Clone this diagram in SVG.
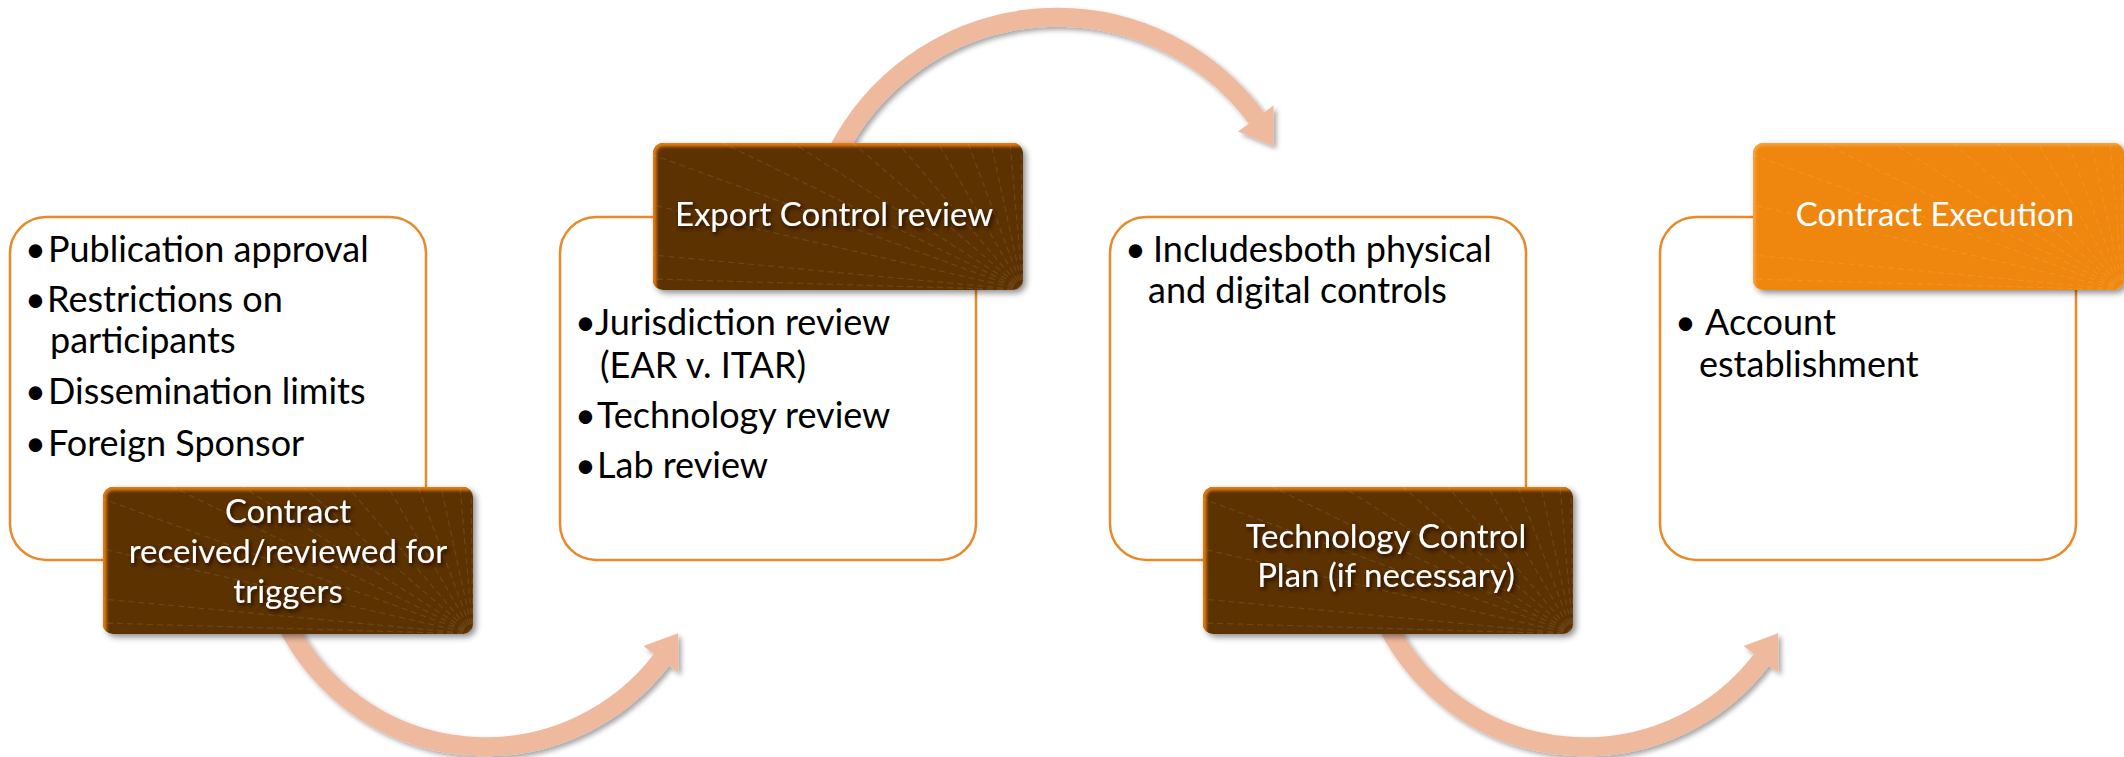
<svg xmlns="http://www.w3.org/2000/svg" xmlns:xlink="http://www.w3.org/1999/xlink" width="2124" height="757" viewBox="0 0 2124 757">
  <defs>
    <filter id="shadow" x="-10%" y="-10%" width="125%" height="130%">
      <feDropShadow dx="3" dy="3" stdDeviation="3" flood-color="#000" flood-opacity="0.45"/>
    </filter>
    <filter id="arrowShadow" x="-10%" y="-10%" width="125%" height="130%">
      <feDropShadow dx="3" dy="3" stdDeviation="2.5" flood-color="#000" flood-opacity="0.35"/>
    </filter>
    <filter id="txtShadow" x="-10%" y="-30%" width="125%" height="170%">
      <feDropShadow dx="2" dy="2.5" stdDeviation="2" flood-color="#1a0c00" flood-opacity="0.9"/>
    </filter>
    <filter id="soft" x="-5%" y="-5%" width="110%" height="110%">
      <feGaussianBlur stdDeviation="1.6"/>
    </filter>
    <clipPath id="c1"><rect x="103" y="487" width="370" height="147" rx="10"/></clipPath>
    <clipPath id="c2"><rect x="653" y="143" width="370" height="147" rx="10"/></clipPath>
    <clipPath id="c3"><rect x="1203" y="487" width="370" height="147" rx="10"/></clipPath>
    <clipPath id="c4"><rect x="1753" y="143" width="371" height="147" rx="10"/></clipPath>
    <g id="rays" fill="none" stroke="#ffffff" stroke-opacity="0.10" stroke-width="1.2" stroke-dasharray="6 4">
      <path d="M370 147 L0 12 M370 147 L0 62 M370 147 L0 112 M370 147 L0 136 M370 147 L70 0 M370 147 L140 0 M370 147 L200 0 M370 147 L245 0 M370 147 L285 0 M370 147 L315 0 M370 147 L338 0 M370 147 L357 0 M370 147 L368 0"/>
    </g>
    <style>
      .panel { fill: #ffffff; stroke: #E8892A; stroke-width: 2.5; }
      .brown { fill: #5C3200; }
      .glow { fill: none; stroke: #E57C0E; stroke-width: 7; }
      .orange { fill: #EF860B; }
      .glowO { fill: none; stroke: #F6A547; stroke-width: 5; }
      .body { font-family: Lato, "Open Sans", sans-serif; font-size: 36px; fill: #000; }
      .label { font-family: Lato, "Open Sans", sans-serif; font-size: 33px; fill: #fff; text-anchor: middle; }
      .arrow { fill: none; stroke: #EFB99E; stroke-width: 19; }
      .head { fill: #EFB99E; }
    </style>
  </defs>

  <g id="connectors">
    <g filter="url(#arrowShadow)">
      <path class="arrow" d="M 287.2 624.8 A 222 222 0 0 0 661.5 659.9"/>
      <polygon class="head" points="678.2,633.3 678.3,672.8 643.5,646.0"/>
    </g>
    <g filter="url(#arrowShadow)">
      <path class="arrow" d="M 836.9 152.9 A 247 247 0 0 1 1256.4 117.9"/>
      <polygon class="head" points="1273.4,146.0 1273.5,105.4 1238.1,131.5"/>
    </g>
    <g filter="url(#arrowShadow)">
      <path class="arrow" d="M 1387.2 624.8 A 222 222 0 0 0 1761.5 659.9"/>
      <polygon class="head" points="1778.2,633.3 1778.3,672.8 1743.5,646.0"/>
    </g>
  </g>

  <g id="node-contract-received">
    <rect class="panel" x="10" y="217" width="416" height="343" rx="36"/>
    <text class="body" x="25" y="262">•</text>
    <text class="body" x="48" y="262">Publication approval</text>
    <text class="body" x="25" y="312">•</text>
    <text class="body" x="47" y="312">Restrictions on</text>
    <text class="body" x="50" y="353">participants</text>
    <text class="body" x="25" y="404">•</text>
    <text class="body" x="48" y="404">Dissemination limits</text>
    <text class="body" x="25" y="456">•</text>
    <text class="body" x="48" y="456">Foreign Sponsor</text>
    <rect class="brown" x="103" y="487" width="370" height="147" rx="10" filter="url(#shadow)"/>
    <g clip-path="url(#c1)">
      <rect class="glow" x="103" y="487" width="600" height="400" rx="10" filter="url(#soft)"/>
      <use xlink:href="#rays" href="#rays" x="103" y="487"/>
    </g>
    <g filter="url(#txtShadow)">
      <text class="label" x="288" y="523">Contract</text>
      <text class="label" x="288" y="563">received/reviewed for</text>
      <text class="label" x="288" y="603">triggers</text>
    </g>
  </g>

  <g id="node-export-control">
    <rect class="panel" x="560" y="217" width="416" height="343" rx="36"/>
    <text class="body" x="575" y="335">•</text>
    <text class="body" x="595" y="335">Jurisdiction review</text>
    <text class="body" x="600" y="378">(EAR v. ITAR)</text>
    <text class="body" x="575" y="428">•</text>
    <text class="body" x="597" y="428">Technology review</text>
    <text class="body" x="575" y="478">•</text>
    <text class="body" x="597" y="478">Lab review</text>
    <rect class="brown" x="653" y="143" width="370" height="147" rx="10" filter="url(#shadow)"/>
    <g clip-path="url(#c2)">
      <rect class="glow" x="653" y="143" width="600" height="400" rx="10" filter="url(#soft)"/>
      <use xlink:href="#rays" href="#rays" x="653" y="143"/>
    </g>
    <g filter="url(#txtShadow)">
      <text class="label" x="834" y="226">Export Control review</text>
    </g>
  </g>

  <g id="node-technology-control">
    <rect class="panel" x="1110" y="217" width="416" height="343" rx="36"/>
    <text class="body" x="1125" y="262">•</text>
    <text class="body" x="1153" y="262">Includesboth physical</text>
    <text class="body" x="1148" y="303">and digital controls</text>
    <rect class="brown" x="1203" y="487" width="370" height="147" rx="10" filter="url(#shadow)"/>
    <g clip-path="url(#c3)">
      <rect class="glow" x="1203" y="487" width="600" height="400" rx="10" filter="url(#soft)"/>
      <use xlink:href="#rays" href="#rays" x="1203" y="487"/>
    </g>
    <g filter="url(#txtShadow)">
      <text class="label" x="1386" y="548">Technology Control</text>
      <text class="label" x="1386" y="587">Plan (if necessary)</text>
    </g>
  </g>

  <g id="node-contract-execution">
    <rect class="panel" x="1660" y="217" width="416" height="343" rx="36"/>
    <text class="body" x="1675" y="335">•</text>
    <text class="body" x="1705" y="335">Account</text>
    <text class="body" x="1699" y="377">establishment</text>
    <rect class="orange" x="1753" y="143" width="371" height="147" rx="10" filter="url(#shadow)"/>
    <g clip-path="url(#c4)">
      <rect class="glowO" x="1753" y="143" width="600" height="400" rx="10" filter="url(#soft)"/>
      <use xlink:href="#rays" href="#rays" x="1753" y="143"/>
    </g>
    <text class="label" x="1935" y="226">Contract Execution</text>
  </g>
</svg>
